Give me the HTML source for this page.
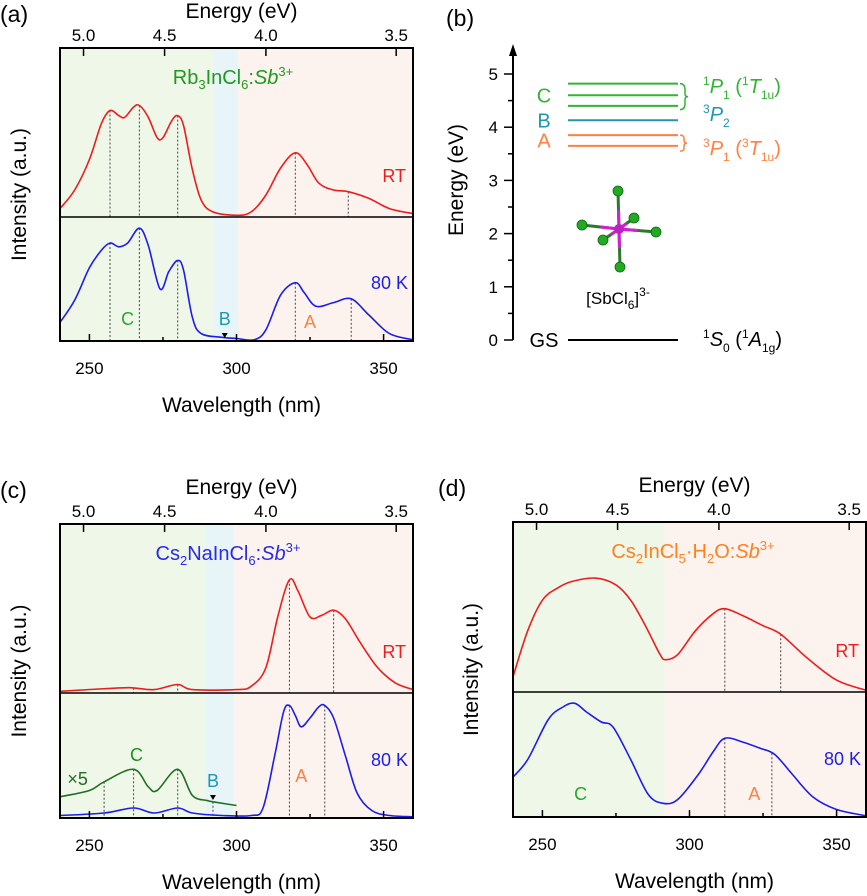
<!DOCTYPE html>
<html><head><meta charset="utf-8"><style>
html,body{margin:0;padding:0;background:#fff;}
svg{display:block;font-family:"Liberation Sans",sans-serif;}
</style></head><body>
<svg id="fig" width="867" height="896" viewBox="0 0 867 896" xmlns="http://www.w3.org/2000/svg"></svg>
<script>
// ---- data (a) Rb3InCl6:Sb
const aRtWl=[240,245,250,254,257,260,262,265,267,270,273,275,278,280,282,285,288,292,300,305,310,315,320,324,328,333,338,345,352,360];
const aRtI=[0.05,0.16,0.34,0.55,0.63,0.60,0.59,0.65,0.66,0.59,0.47,0.47,0.57,0.60,0.54,0.28,0.10,0.03,0.01,0.03,0.13,0.29,0.38,0.31,0.20,0.16,0.15,0.11,0.05,0.02];
const aLtWl=[240,245,250,254,257,260,263,267,270,274,277,280,282,285,288,295,300,306,310,315,320,323,327,333,339,345,352,360];
const aLtI=[0.15,0.33,0.59,0.73,0.79,0.76,0.79,0.91,0.77,0.42,0.56,0.65,0.57,0.19,0.06,0.03,0.02,0.01,0.09,0.37,0.47,0.39,0.28,0.31,0.34,0.21,0.06,0.01];
const aRtMarks=[257,267,280,320,338];
const aLtMarks=[257,267,280,320,339];
// ---- data (c) Cs2NaInCl6:Sb
const cRtWl=[240,260,265,272,280,285,300,305,310,314,318,321,325,329,333,337,342,348,354,360];
const cRtI=[0.01,0.03,0.03,0.02,0.05,0.02,0.02,0.04,0.15,0.45,0.67,0.60,0.45,0.46,0.49,0.44,0.30,0.15,0.06,0.02];
const cLtWl=[240,255,265,272,280,285,295,305,309,313,316,318,320,322,325,328,330,333,337,341,346,352,360];
const cLtI=[0.02,0.04,0.08,0.04,0.08,0.04,0.02,0.02,0.08,0.50,0.85,0.90,0.82,0.73,0.80,0.89,0.90,0.80,0.50,0.20,0.06,0.02,0.01];
const cX5Wl=[240,250,255,265,270,273,280,285,290,292,300];
const cX5I=[0.17,0.22,0.29,0.39,0.25,0.22,0.39,0.18,0.14,0.13,0.10];
const cRtMarks=[265,280,318,333];
const cLtMarks=[318,330];
const cX5Marks=[255,265,280,292];
// ---- data (d) Cs2InCl5.H2O:Sb
const dRtWl=[240,245,250,255,260,268,275,280,285,290,292,296,302,308,312,318,325,331,340,350,360];
const dRtI=[0.09,0.36,0.54,0.61,0.65,0.67,0.63,0.54,0.39,0.22,0.19,0.22,0.36,0.46,0.49,0.45,0.39,0.34,0.20,0.07,0.01];
const dLtWl=[240,245,252,257,261,265,270,274,280,286,291,296,303,308,312,318,324,329,335,342,350,360];
const dLtI=[0.32,0.46,0.78,0.88,0.91,0.84,0.76,0.72,0.46,0.18,0.11,0.14,0.34,0.52,0.63,0.60,0.55,0.50,0.34,0.16,0.06,0.01];
const dRtMarks=[312,331];
const dLtMarks=[312,328];
// ---- data (b) energy levels
const bLevelE=[4.82,4.6,4.4,4.13,3.85,3.65,0];
const bLevelCol=['#33b233','#33b233','#33b233','#1f97b3','#ff8040','#ff8040','#000'];
const bTicks=[0,1,2,3,4,5];
const wlTicks=[250,300,350];
const eTicks=[5.0,4.5,4.0,3.5];

const NS='http://www.w3.org/2000/svg';
const svg=document.getElementById('fig');
function mk(tag,attrs,parent){const e=document.createElementNS(NS,tag);for(const k in attrs)e.setAttribute(k,attrs[k]);(parent||svg).appendChild(e);return e;}
function txt(x,y,s,size,fill,anchor,parent){const t=mk('text',{x:x,y:y,'font-size':size,fill:fill||'#000','text-anchor':anchor||'middle'},parent);t.innerHTML=s;return t;}
function smooth(pts){let d='M'+pts[0][0].toFixed(1)+','+pts[0][1].toFixed(1);
 for(let i=0;i<pts.length-1;i++){const p0=pts[Math.max(0,i-1)],p1=pts[i],p2=pts[i+1],p3=pts[Math.min(pts.length-1,i+2)];
 const c1=[p1[0]+(p2[0]-p0[0])/6,p1[1]+(p2[1]-p0[1])/6],c2=[p2[0]-(p3[0]-p1[0])/6,p2[1]-(p3[1]-p1[1])/6];
 d+='C'+c1[0].toFixed(1)+','+c1[1].toFixed(1)+' '+c2[0].toFixed(1)+','+c2[1].toFixed(1)+' '+p2[0].toFixed(1)+','+p2[1].toFixed(1);}return d;}
function interp(wl,I,x){for(let i=0;i<wl.length-1;i++){if(x>=wl[i]&&x<=wl[i+1]){const t=(x-wl[i])/(wl[i+1]-wl[i]);return I[i]+t*(I[i+1]-I[i]);}}return 0;}

function panel(o){
 const g=mk('g',{});
 
 
 const X=l=>o.x0+(l-240)/120*(o.x1-o.x0);
 // background regions
 o.regions.forEach(r=>{const rc=mk('rect',{x:X(r[0]),y:o.top,width:X(r[1])-X(r[0]),height:o.bot-o.top,fill:r[2]},g);
  
  });
 const Yu=v=>o.mid-v*(o.mid-o.top), Yl=v=>o.bot-v*(o.bot-o.mid);
 // dotted markers
 function marks(arr,wl,I,Y,nm){arr.forEach(m=>{const ln=mk('line',{x1:X(m),x2:X(m),y1:Y(interp(wl,I,m)),y2:Y(0),stroke:'#555','stroke-width':1.1,'stroke-dasharray':'2,2'},g);
  
  });}
 marks(o.rtMarks,o.rtWl,o.rtI,Yu,'peak-marker-rt');
 marks(o.ltMarks,o.ltWl,o.ltI,Yl,'peak-marker-80k');
 if(o.x5Wl)marks(o.x5Marks,o.x5Wl,o.x5I,Yl,'peak-marker-x5');
 function curve(wl,I,Y,col,nm){const p=mk('path',{d:smooth(wl.map((w,i)=>[X(w),Y(I[i])])),fill:'none',stroke:col,'stroke-width':1.6},g);
  
  }
 curve(o.rtWl,o.rtI,Yu,'#ee1c1c','curve-rt');
 curve(o.ltWl,o.ltI,Yl,'#1c1cee','curve-80k');
 if(o.x5Wl)curve(o.x5Wl,o.x5I,Yl,'#1f6f1f','curve-x5');
 // frame
 const fr=mk('rect',{x:o.x0,y:o.top,width:o.x1-o.x0,height:o.bot-o.top,fill:'none',stroke:'#000','stroke-width':2},g);
 
 
 mk('line',{x1:o.x0,x2:o.x1,y1:o.mid,y2:o.mid,stroke:'#000','stroke-width':1.6},g);
 // bottom ticks
 [250,275,300,325,350].forEach(t=>mk('line',{x1:X(t),x2:X(t),y1:o.bot,y2:o.bot-(t%50?4:7),stroke:'#000','stroke-width':1.5},g));
 wlTicks.forEach(t=>{const tl=txt(X(t),o.bot+33,t,17,'#000','middle',g);
  
  });
 eTicks.forEach(e=>{const x=X(1240/e);mk('line',{x1:x,x2:x,y1:o.top,y2:o.top+8,stroke:'#000','stroke-width':1.5},g);
  const tl=txt(x,o.top-7,e.toFixed(1),17,'#000','middle',g);
  
  });
 const xt=txt((o.x0+o.x1)/2+5,o.bot+71,'Wavelength (nm)',21,'#000','middle',g);
 
 
 const et=txt((o.x0+o.x1)/2+5,o.top-30,'Energy (eV)',21,'#000','middle',g);
 
 
 const yt=txt(0,0,'Intensity (a.u.)',21,'#000','middle',g);
 yt.setAttribute('transform','translate('+o.ytx+','+((o.top+o.bot)/2)+') rotate(-90)');
 
 
 const pl=txt(o.plx,o.top-26,o.label,23,'#000','start',g);
 
 
 const tt=txt(o.titleX,o.top+36,o.title,20,o.titleCol,'middle',g);
 
 
 const rt=txt(o.x1-7,Yu(0)-35,'RT',18,'#ee1c1c','end',g);
 
 
 const lk=txt(o.x1-5,Yl(0)-52,'80 K',18,'#1c1cee','end',g);
 
 
 o.extra.forEach(e=>{const t=txt(X(e[0]),e[1],e[2],18,e[3],'middle',g);
  
  
  if(e[4]){mk('path',{d:'M'+(X(e[0])-3)+','+(e[1]+8)+'h6l-3,5z',fill:'#000'},g);}});
}
const GR='#eef7e8',BL='#e8f5f8',PK='#fdf3ee';
panel({name:'panel-a',x0:60,x1:413,top:48,mid:217,bot:341,ytx:26,plx:0,label:'(a)',
 regions:[[240,292,GR,'c'],[292,300.5,BL,'b'],[300.5,360,PK,'a']],
 rtWl:aRtWl,rtI:aRtI,ltWl:aLtWl,ltI:aLtI,rtMarks:aRtMarks,ltMarks:aLtMarks,
 title:'Rb<tspan font-size="13" dy="5">3</tspan><tspan dy="-5">InCl</tspan><tspan font-size="13" dy="5">6</tspan><tspan dy="-5">:</tspan><tspan font-style="italic">Sb</tspan><tspan font-size="13" dy="-8">3+</tspan>',titleX:233,titleCol:'#1e9a1e',
 extra:[[263,325,'C','#2aa52a'],[296,325,'B','#1f97b3',true],[325,328,'A','#ff8040']]});
panel({name:'panel-c',x0:60,x1:413,top:524,mid:693,bot:818,ytx:26,plx:0,label:'(c)',
 regions:[[240,289.5,GR,'c'],[289.5,299,BL,'b'],[299,360,PK,'a']],
 rtWl:cRtWl,rtI:cRtI,ltWl:cLtWl,ltI:cLtI,rtMarks:cRtMarks,ltMarks:cLtMarks,
 x5Wl:cX5Wl,x5I:cX5I,x5Marks:cX5Marks,
 title:'Cs<tspan font-size="13" dy="5">2</tspan><tspan dy="-5">NaInCl</tspan><tspan font-size="13" dy="5">6</tspan><tspan dy="-5">:</tspan><tspan font-style="italic">Sb</tspan><tspan font-size="13" dy="-8">3+</tspan>',titleX:228,titleCol:'#2a2aee',
 extra:[[246,785,'×5','#1f6f1f'],[266,761,'C','#1f8f1f'],[292,787,'B','#1f97b3',true],[322,782,'A','#ff8040']]});
panel({name:'panel-d',x0:513,x1:866,top:522,mid:692,bot:817,ytx:478,plx:438,label:'(d)',
 regions:[[240,291.6,GR,'c'],[291.6,360,PK,'a']],
 rtWl:dRtWl,rtI:dRtI,ltWl:dLtWl,ltI:dLtI,rtMarks:dRtMarks,ltMarks:dLtMarks,
 title:'Cs<tspan font-size="13" dy="5">2</tspan><tspan dy="-5">InCl</tspan><tspan font-size="13" dy="5">5</tspan><tspan dy="-5">·H</tspan><tspan font-size="13" dy="5">2</tspan><tspan dy="-5">O:</tspan><tspan font-style="italic">Sb</tspan><tspan font-size="13" dy="-8">3+</tspan>',titleX:693,titleCol:'#ff8020',
 extra:[[263,800,'C','#2aa52a'],[322,800,'A','#ff8040']]});

// ---- panel b
(function(){
 const g=mk('g',{});
 
 
 const ax=513,Y=e=>340-e*53.2;
 mk('line',{x1:ax,x2:ax,y1:340,y2:52,stroke:'#000','stroke-width':2},g);
 mk('path',{d:'M'+(ax-4)+',56L'+ax+',44L'+(ax+4)+',56z',fill:'#000'},g);
 for(let e=0;e<=5;e+=0.5)mk('line',{x1:ax-(e%1?5:9),x2:ax,y1:Y(e),y2:Y(e),stroke:'#000','stroke-width':1.5},g);
 bTicks.forEach(t=>{const tl=txt(ax-15,Y(t)+6,t,17,'#000','end',g);
  
  });
 const yt=txt(0,0,'Energy (eV)',21,'#000','middle',g);
 yt.setAttribute('transform','translate(463,180) rotate(-90)');
 
 
 const pl=txt(446,26,'(b)',23,'#000','start',g);
 
 
 bLevelE.forEach((e,i)=>{const l=mk('line',{x1:568,x2:678,y1:Y(e),y2:Y(e),stroke:bLevelCol[i],'stroke-width':e===0?2:2},g);
  
  });
 [['C',4.6,'#33b233'],['B',4.13,'#1f97b3'],['A',3.75,'#ff8040'],['GS',0,'#000']].forEach(s=>{const t=txt(544,Y(s[1])+7,s[0],20,s[2],'middle',g);
  
  });
 mk('path',{d:'M680,'+Y(4.82)+'q5,0 5,6v4q0,3 3,3q-3,0 -3,3v4q0,6 -5,6',fill:'none',stroke:'#33b233','stroke-width':1.5},g);
 mk('path',{d:'M680,'+Y(3.85)+'q4,0 4,3v2q0,3 3,3q-3,0 -3,3v2q0,3 -4,3',fill:'none',stroke:'#ff8040','stroke-width':1.5},g);
 const s=(c,y,html)=>{const t=txt(703,y,html,20,c,'start',g);
  
  };
 s('#33b233',93,'<tspan font-size="12" dy="-8">1</tspan><tspan dy="8" font-style="italic">P</tspan><tspan font-size="12" dy="6">1</tspan><tspan dy="-6"> (</tspan><tspan font-size="12" dy="-8">1</tspan><tspan dy="8" font-style="italic">T</tspan><tspan font-size="12" dy="6">1u</tspan><tspan dy="-6">)</tspan>');
 s('#1f97b3',121,'<tspan font-size="12" dy="-8">3</tspan><tspan dy="8" font-style="italic">P</tspan><tspan font-size="12" dy="6">2</tspan>');
 s('#ff8040',155,'<tspan font-size="12" dy="-8">3</tspan><tspan dy="8" font-style="italic">P</tspan><tspan font-size="12" dy="6">1</tspan><tspan dy="-6"> (</tspan><tspan font-size="12" dy="-8">3</tspan><tspan dy="8" font-style="italic">T</tspan><tspan font-size="12" dy="6">1u</tspan><tspan dy="-6">)</tspan>');
 s('#000',346,'<tspan font-size="12" dy="-8">1</tspan><tspan dy="8" font-style="italic">S</tspan><tspan font-size="12" dy="6">0</tspan><tspan dy="-6"> (</tspan><tspan font-size="12" dy="-8">1</tspan><tspan dy="8" font-style="italic">A</tspan><tspan font-size="12" dy="6">1g</tspan><tspan dy="-6">)</tspan>');
 // molecule
 const m=mk('g',{},g);
 
 
 const c=[619,229],atoms=[[618,191],[620,267],[582,225],[656,232],[603,240],[634,218]];
 atoms.forEach(a=>{mk('line',{x1:c[0],y1:c[1],x2:a[0],y2:a[1],stroke:'#2a7a2a','stroke-width':3},m);
  mk('line',{x1:c[0],y1:c[1],x2:(c[0]+a[0])/2,y2:(c[1]+a[1])/2,stroke:'#d020d0','stroke-width':3},m);});
 atoms.forEach(a=>mk('circle',{cx:a[0],cy:a[1],r:5,fill:'#22aa22',stroke:'#116611','stroke-width':0.8},m));
 mk('circle',{cx:c[0],cy:c[1],r:5,fill:'#c020c0'},m);
 const ml=txt(618,304,'[SbCl<tspan font-size="12" dy="5">6</tspan><tspan dy="-5">]</tspan><tspan font-size="12" dy="-8">3-</tspan>',17,'#000','middle',g);
 
 
})();
</script>
</body></html>
